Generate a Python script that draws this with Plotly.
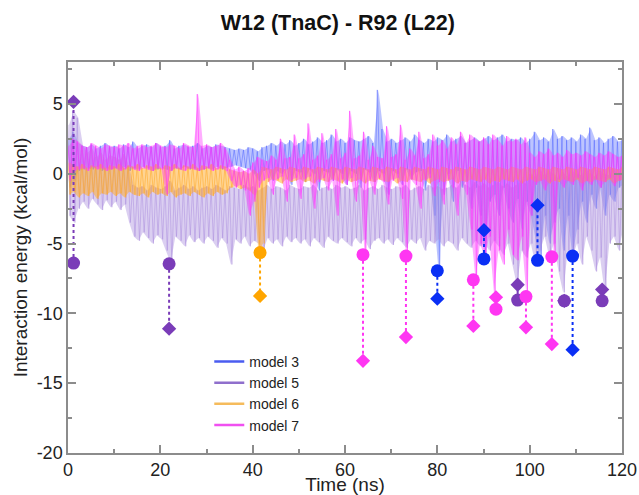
import plotly.graph_objects as go

# ---------------- data ----------------
time_ns = list(range(0, 121))  # 1-ns bins; each bin drawn as high/low envelope of the noisy trace

m3_hi = [2.5, 3.0, 2.2, 2.0, 1.9, 2.1, 1.8, 2.0, 2.2, 1.9,
         2.0, 1.8, 2.1, 1.9, 2.3, 1.8, 2.0, 2.1, 1.9, 2.2,
         1.9, 2.0, 2.4, 1.8, 2.0, 2.1, 1.9, 2.0, 2.2, 1.8,
         2.0, 1.9, 2.1, 2.0, 1.9, 1.8, 1.7, 1.8, 1.7, 1.9,
         1.8, 1.6, 1.9, 2.0, 2.2, 2.0, 2.3, 2.1, 2.4, 2.0,
         2.2, 2.5, 2.1, 2.3, 2.6, 2.2, 2.4, 2.8, 2.3, 2.5,
         2.2, 2.6, 2.4, 2.3, 2.5, 2.7, 2.2, 6.0, 3.2, 2.3,
         2.5, 2.2, 2.4, 2.6, 2.3, 2.8, 2.4, 2.2, 2.5, 2.3,
         2.6, 2.4, 2.8, 2.3, 2.5, 2.7, 2.2, 2.4, 2.6, 2.3,
         2.5, 2.7, 2.4, 2.6, 2.8, 2.3, 2.5, 2.4, 2.6, 2.2,
         2.5, 3.0, 2.4, 2.6, 2.3, 3.2, 2.5, 2.7, 2.4, 2.6,
         2.3, 2.8, 2.5, 3.3, 2.4, 2.6, 2.2, 2.5, 2.7, 2.3, 2.4]
m3_lo = [-1.0, -0.5, 0.2, 0.3, 0.4, 0.3, 0.5, 0.2, 0.4, 0.3,
         0.4, 0.3, 0.5, 0.2, 0.4, 0.3, 0.5, 0.4, 0.2, 0.3,
         0.4, 0.3, 0.2, 0.4, 0.3, 0.5, 0.3, 0.4, 0.2, 0.3,
         0.4, 0.3, 0.5, 0.3, 0.4, 0.5, 0.6, 0.5, 0.4, 0.3,
         0.0, -0.5, 0.2, 0.3, -0.5, 0.2, 0.0, 0.3, -0.8, 0.2,
         0.1, -0.6, 0.3, 0.0, -1.2, 0.2, 0.1, -0.5, 0.3, 0.0,
         -0.8, 0.2, 0.0, -1.0, 0.3, 0.1, -0.6, 0.2, 0.0, -1.5,
         0.2, 0.0, -0.8, 0.3, -0.4, 0.1, 0.2, -1.2, 0.0, -3.0,
         -6.9, -1.5, 0.0, -2.0, 0.2, -1.0, -0.5, -2.5, -1.0, -3.0,
         -6.1, -2.0, -1.5, -3.0, -1.0, -2.5, -3.5, -1.8, -4.0, -2.0,
         -3.0, -4.5, -6.2, -3.0, -5.0, -3.5, -2.5, -5.5, -3.0, -5.9,
         -4.0, -2.0, -3.5, -1.5, -2.5, -1.0, -3.0, -1.5, -2.0, -1.0, -0.8]

m5_hi = [3.5, 4.5, 4.0, 2.0, 1.5, 1.8, 1.2, 1.5, 1.0, 1.3,
         1.2, 1.0, 1.4, 0.5, -0.8, -1.0, -0.9, -1.2, -0.8, -1.0,
         -1.1, -0.9, -0.5, -1.2, -1.0, -0.8, -1.1, -0.9, -1.2, -1.0,
         -0.9, -1.1, -0.8, -1.0, -1.2, -0.9, -1.0, -1.1, -0.8, -1.0,
         -0.9, -1.2, -1.0, -0.8, -1.1, -0.9, -1.0, -1.2, -0.8, -1.0,
         -1.1, -0.9, -1.0, -0.8, -1.2, -1.0, -0.9, -1.1, -0.8, -1.0,
         -0.9, -1.1, -1.0, -0.8, -1.2, -1.0, -0.9, -1.1, -0.8, -1.0,
         -1.1, -0.9, -1.0, -0.8, -1.2, -1.0, -0.9, -1.1, -0.8, -1.0,
         -0.9, -1.1, -1.0, -0.8, -1.0, -0.5, -0.8, -1.0, -0.6, -0.9,
         -0.7, -1.0, -0.8, -0.6, -0.9, -0.7, -1.0, -0.8, -0.5, -0.7,
         0.0, -0.2, 0.3, -0.1, 0.2, 0.0, -0.3, 0.1, -0.2, 0.2,
         0.0, -0.1, 0.3, 0.0, -0.2, 0.2, 0.0, -0.1, 0.3, 0.0, 0.1]
m5_lo = [-3.0, -3.5, -2.5, -2.0, -2.5, -1.8, -2.2, -2.6, -1.9, -2.4,
         -2.0, -2.6, -2.2, -3.5, -4.5, -4.8, -4.2, -4.6, -5.0, -4.4,
         -4.7, -5.5, -6.4, -4.5, -4.8, -5.2, -4.4, -4.9, -4.6, -5.0,
         -4.5, -4.8, -5.3, -4.6, -5.0, -6.5, -4.7, -5.0, -4.5, -5.2,
         -4.8, -5.0, -5.5, -4.6, -5.0, -4.7, -5.2, -4.5, -4.9, -4.6,
         -5.0, -4.7, -5.2, -4.6, -4.9, -5.3, -4.5, -4.8, -5.0, -4.6,
         -4.9, -5.2, -4.6, -5.0, -4.7, -5.4, -4.8, -4.6, -5.0, -4.7,
         -5.1, -4.6, -4.9, -5.3, -4.7, -5.0, -4.6, -5.5, -4.8, -5.0,
         -4.7, -5.2, -4.8, -5.0, -5.5, -4.6, -5.0, -5.3, -4.8, -5.2,
         -5.0, -5.5, -4.8, -5.2, -5.8, -5.0, -6.5, -8.0, -5.5, -6.0,
         -5.0, -6.5, -5.5, -4.5, -6.0, -5.0, -7.0, -8.5, -5.5, -6.0,
         -5.0, -6.5, -4.5, -5.5, -7.0, -6.0, -8.5, -5.0, -4.5, -5.5, -4.0]

m6_hi = [0.8, 0.6, 0.5, 0.7, 0.4, 0.6, 0.5, 0.7, 0.4, 0.6,
         0.5, 0.7, 0.4, 0.6, 0.5, 0.7, 0.4, 0.6, 0.5, 0.7,
         0.4, 0.6, 0.5, 0.7, 0.4, 0.6, 0.5, 0.7, 0.4, 0.6,
         0.5, 0.7, 0.4, 0.6, 0.5, 0.3, 0.2, 0.1, 0.2, 0.0,
         0.3, 0.0, 0.5, 0.4, 0.3, 0.5, 0.4, 0.3, 0.5, 0.4,
         0.3, 0.5, 0.4, 0.3, 0.5, 0.4, 0.3, 0.5, 0.4, 0.3,
         0.5, 0.4, 0.3, 0.5, 0.4, 0.3, 0.5, 0.4, 0.3, 0.5,
         0.4, 0.3, 0.5, 0.4, 0.3, 0.5, 0.4, 0.3, 0.5, 0.4,
         0.3, 0.5, 0.4, 0.3, 0.5, 0.4, 0.3, 0.5, 0.4, 0.3,
         0.5, 0.4, 0.3, 0.5, 0.4, 0.3, 0.5, 0.4, 0.3, 0.5,
         0.4, 0.3, 0.5, 0.4, 0.3, 0.5, 0.4, 0.3, 0.5, 0.4,
         0.3, 0.5, 0.4, 0.3, 0.5, 0.4, 0.3, 0.5, 0.4, 0.3, 0.5]
m6_lo = [-1.5, -1.3, -1.7, -1.4, -1.6, -1.3, -1.8, -1.4, -1.5, -1.3,
         -1.6, -1.4, -1.7, -1.3, -1.5, -1.6, -1.4, -1.7, -1.3, -1.5,
         -1.4, -1.6, -1.3, -1.7, -1.5, -1.4, -1.6, -1.3, -1.5, -1.7,
         -1.4, -1.6, -1.3, -1.5, -1.4, -1.0, -0.9, -1.1, -1.0, -1.2,
         -1.5, -5.6, -5.0, -0.6, -0.4, -0.5, -0.7, -0.4, -0.6, -0.5,
         -0.4, -0.6, -0.5, -0.7, -0.4, -0.5, -0.6, -0.4, -0.5, -0.7,
         -0.4, -0.6, -0.5, -0.4, -0.7, -0.5, -0.6, -0.4, -0.5, -0.6,
         -0.4, -0.7, -0.5, -0.6, -0.4, -0.5, -0.6, -0.4, -0.7, -0.5,
         -0.4, -0.6, -0.5, -0.4, -0.7, -0.5, -0.6, -0.4, -0.5, -0.6,
         -0.4, -0.7, -0.5, -0.6, -0.4, -0.5, -0.6, -0.4, -0.7, -0.5,
         -0.4, -0.6, -0.5, -0.4, -0.7, -0.5, -0.6, -0.4, -0.5, -0.6,
         -0.4, -0.7, -0.5, -0.6, -0.4, -0.5, -0.6, -0.4, -0.7, -0.5, -0.4]

m7_hi = [2.0, 2.5, 2.3, 2.0, 1.9, 2.2, 2.0, 1.8, 2.1, 2.0,
         1.9, 2.1, 2.0, 2.2, 1.8, 2.0, 2.1, 1.9, 2.0, 2.2,
         2.0, 1.9, 2.1, 2.0, 1.8, 2.2, 2.0, 1.9, 5.7, 2.0,
         2.1, 1.9, 2.0, 2.2, 1.8, 1.0, 0.3, 0.5, 0.2, 0.4,
         0.8, 1.2, 1.0, 0.9, 1.3, 1.0, 2.5, 1.1, 1.2, 2.8,
         1.1, 1.4, 3.6, 1.0, 1.3, 2.9, 1.0, 1.4, 3.2, 1.1,
         1.5, 4.5, 1.1, 1.3, 3.0, 1.0, 2.0, 1.2, 1.1, 3.4,
         1.2, 1.4, 3.5, 1.0, 1.8, 1.3, 3.0, 1.1, 1.4, 2.8,
         2.0, 2.4, 1.8, 2.6, 2.1, 3.0, 2.2, 2.8, 2.5, 2.3,
         2.6, 2.1, 2.8, 2.4, 2.0, 2.7, 2.3, 2.5, 2.1, 2.6,
         1.5, 1.2, 1.6, 1.4, 1.8, 1.3, 1.5, 1.2, 1.7, 1.4,
         1.5, 1.3, 1.6, 1.4, 1.2, 1.5, 1.3, 1.6, 1.4, 1.2, 1.3]
m7_lo = [-0.5, 0.2, 0.3, 0.4, 0.2, 0.5, 0.3, 0.4, 0.2, 0.3,
         0.4, 0.2, 0.3, 0.5, 0.3, 0.2, 0.4, 0.3, 0.2, 0.4,
         0.3, -1.5, 0.2, 0.4, 0.3, 0.2, 0.4, 0.3, 0.2, 0.3,
         0.4, 0.2, 0.3, 0.4, 0.2, -0.5, -1.0, -0.8, -1.2, -3.0,
         -2.0, -1.0, -0.5, -0.3, -1.5, -0.4, -0.2, -2.0, -0.5, -0.3,
         -1.8, -0.4, -0.2, -2.5, -0.6, -0.3, -1.2, -0.5, -3.0, -0.4,
         -0.8, -0.3, -2.0, -0.5, -5.8, -0.4, -1.5, -0.3, -0.6, -2.2,
         -0.5, -0.3, -1.8, -5.9, -0.4, -0.8, -2.5, -0.5, -0.3, -1.6,
         -0.6, -2.2, -0.4, -1.0, -3.0, -0.5, -1.5, -4.0, -7.5, -5.0,
         -6.0, -4.5, -8.5, -5.5, -6.5, -4.0, -5.8, -6.2, -4.5, -8.5,
         -3.0, -0.8, -0.5, -1.2, -0.6, -5.9, -0.4, -1.0, -0.5, -0.8,
         -0.3, -1.2, -0.5, -0.8, -0.4, -1.0, -0.6, -0.3, -0.9, -0.5, -0.4]

# highlighted frames: circle value and diamond value at the same time
m3_t = [80.0, 90.1, 101.7, 109.3]
m3_circle = [-6.95, -6.1, -6.2, -5.9]
m3_diamond = [-8.95, -4.05, -2.25, -12.6]

m5_t = [1.2, 21.9, 97.4, 107.5, 115.7]
m5_circle = [-6.4, -6.45, -9.05, -9.1, -9.1]
m5_diamond = [5.15, -11.1, -7.95, -9.1, -8.3]

m6_t = [41.6]
m6_circle = [-5.65]
m6_diamond = [-8.75]

m7_t = [63.9, 73.2, 87.8, 92.7, 99.2, 104.8]
m7_circle = [-5.8, -5.9, -7.6, -9.7, -8.8, -5.95]
m7_diamond = [-13.4, -11.7, -10.9, -8.85, -11.0, -12.2]

y_tickvals = [-20, -15, -10, -5, 0, 5]
y_ticktext = ["-20", "-15", "-10", "-5", "0", "5"]
x_tickvals = [0, 20, 40, 60, 80, 100, 120]

# name, hi, lo, trace rgb, fill alpha, line alpha, marker colour, legend colour, ...
models = [
    ("model 3", m3_hi, m3_lo, (80, 100, 255), 0.38, 0.5, "#0a2ff5", "#4a5cf0", m3_t, m3_circle, m3_diamond),
    ("model 5", m5_hi, m5_lo, (170, 140, 222), 0.42, 0.5, "#7a3cb8", "#8f6fcc", m5_t, m5_circle, m5_diamond),
    ("model 6", m6_hi, m6_lo, (255, 170, 40), 0.50, 0.55, "#ffa500", "#f5bb5c", m6_t, m6_circle, m6_diamond),
    ("model 7", m7_hi, m7_lo, (255, 50, 255), 0.40, 0.55, "#ff36f2", "#f050f0", m7_t, m7_circle, m7_diamond),
]

FONT = "Liberation Sans, Arial, Helvetica, sans-serif"
fig = go.Figure()

# noisy traces: envelope band + zigzag between the high and low value of each 1-ns bin
for name, hi, lo, rgb, fa, la, *_ in models:
    r, g, b = rgb
    bx = [t + 0.25 for t in time_ns] + [t + 0.25 for t in time_ns[::-1]]
    by = list(hi) + list(lo[::-1])
    fig.add_trace(go.Scatter(x=bx, y=by, mode="lines", fill="toself", showlegend=False,
                             fillcolor=f"rgba({r},{g},{b},{fa})", line=dict(width=0),
                             hoverinfo="skip"))
    xs, ys = [], []
    for t, h, l in zip(time_ns, hi, lo):
        xs += [t, t + 0.5]
        ys += [h, l]
    fig.add_trace(go.Scatter(x=xs, y=ys, mode="lines", showlegend=False,
                             line=dict(color=f"rgba({r},{g},{b},{la})", width=1),
                             hoverinfo="skip"))

# dotted connectors + circle/diamond markers
for name, hi, lo, rgb, fa, la, mcol, lcol, ts, circ, diam in models:
    cx, cy = [], []
    for t, c, d in zip(ts, circ, diam):
        cx += [t, t, None]
        cy += [c, d, None]
    fig.add_trace(go.Scatter(x=cx, y=cy, mode="lines", showlegend=False,
                             line=dict(color=mcol, width=2, dash="dot")))
    fig.add_trace(go.Scatter(x=ts, y=diam, mode="markers", showlegend=False,
                             marker=dict(symbol="diamond", size=11, color=mcol)))
    fig.add_trace(go.Scatter(x=ts, y=circ, mode="markers", showlegend=False,
                             marker=dict(symbol="circle", size=13, color=mcol)))

# legend entries
for name, hi, lo, rgb, fa, la, mcol, lcol, *_ in models:
    fig.add_trace(go.Scatter(x=[None], y=[None], mode="lines", name=name,
                             line=dict(color=lcol, width=2.5)))

axis_common = dict(showline=True, linecolor="#8c8c8c", linewidth=1.5, mirror="ticks",
                   ticks="inside", tickcolor="#8c8c8c", tickwidth=1.5, ticklen=8,
                   showgrid=False, zeroline=False,
                   tickfont=dict(family=FONT, size=18, color="#222"))

fig.update_xaxes(range=[0, 120], tickvals=x_tickvals,
                 minor=dict(dtick=10, ticks="inside", ticklen=4, tickcolor="#8c8c8c", tickwidth=1.5),
                 title=dict(text="Time (ns)", font=dict(family=FONT, size=19, color="#222"), standoff=0),
                 **axis_common)
fig.update_yaxes(range=[-20, 8], tickvals=y_tickvals, ticktext=y_ticktext,
                 minor=dict(dtick=2.5, ticks="inside", ticklen=4, tickcolor="#8c8c8c", tickwidth=1.5),
                 title=dict(text="Interaction energy (kcal/mol)", font=dict(family=FONT, size=19, color="#222"), standoff=4),
                 **axis_common)

fig.update_layout(
    width=639, height=495,
    margin=dict(l=68, r=17, t=62, b=42, autoexpand=False),
    paper_bgcolor="white", plot_bgcolor="white",
    title=dict(text="<b>W12 (TnaC) - R92 (L22)</b>", x=0.487, xref="paper", xanchor="center",
               y=1 - 22 / 495, yref="container", yanchor="middle",
               font=dict(family=FONT, size=21.5, color="#111")),
    legend=dict(x=0.255, y=0.274, xanchor="left", yanchor="top",
                bgcolor="rgba(0,0,0,0)", borderwidth=0, tracegroupgap=0,
                font=dict(family=FONT, size=14, color="#222")),
    showlegend=True,
)

fig.write_html("out.html", config={"displayModeBar": False},
               post_script="document.body.style.margin='0';document.body.style.overflow='hidden';")
